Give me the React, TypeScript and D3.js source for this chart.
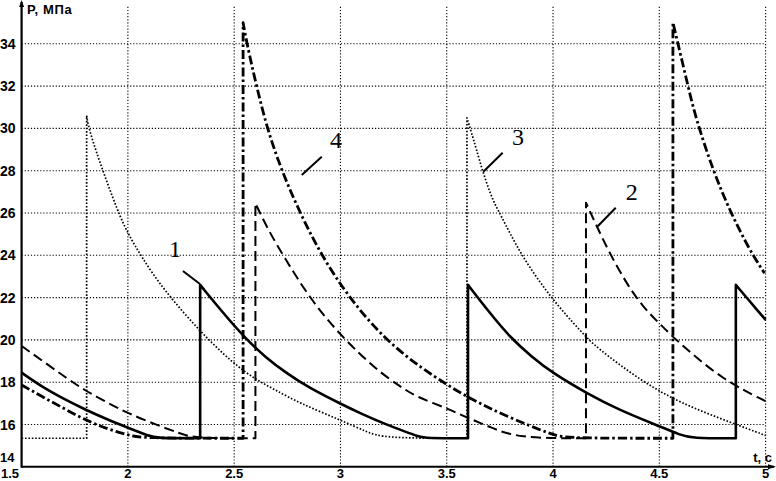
import React from 'react';
import * as d3 from 'd3';

// Pressure traces: [t, s ; P, MPa]
// equal t on consecutive points means a vertical jump
const curve1: [number, number][] = [
  [1.5, 18.45], [1.6, 17.75], [1.7, 17.2], [1.8, 16.7], [1.9, 16.25], [2.0, 15.85], [2.1, 15.45], [2.13, 15.35],
  [2.34, 15.35], [2.34, 22.6], [2.45, 21.25], [2.55, 20.1], [2.65, 19.15], [2.75, 18.4], [2.85, 17.75], [3.0, 16.98],
  [3.1, 16.5], [3.22, 15.98], [3.3, 15.68], [3.37, 15.42], [3.4, 15.35],
  [3.6, 15.35], [3.6, 22.6], [3.7, 21.3], [3.8, 20.1], [3.9, 19.2], [4.0, 18.42], [4.16, 17.47], [4.31, 16.69],
  [4.5, 15.92], [4.6, 15.5], [4.65, 15.35],
  [4.86, 15.35], [4.86, 22.6], [4.97, 21.3], [5.0, 20.95],
];

const curve2: [number, number][] = [
  [1.5, 19.71], [1.6, 19.0], [1.71, 18.2], [1.8, 17.6], [1.9, 17.05], [2.0, 16.53], [2.135, 15.98], [2.245, 15.58],
  [2.31, 15.35],
  [2.6, 15.35], [2.6, 26.46], [2.66, 25.2], [2.73, 24.0], [2.856, 21.95], [3.005, 20.15], [3.17, 18.58], [3.28, 17.8],
  [3.357, 17.31], [3.5, 16.77], [3.594, 16.33], [3.7, 15.9], [3.83, 15.35],
  [4.155, 15.35], [4.155, 26.49], [4.203, 25.43], [4.266, 24.1], [4.345, 22.68], [4.422, 21.57], [4.5, 20.78],
  [4.594, 19.84], [4.8, 18.1], [5.0, 17.1],
];

const curve3: [number, number][] = [
  [1.5, 15.35], [1.806, 15.35], [1.806, 30.6], [1.814, 30.08], [1.86, 28.6], [1.955, 26.0], [2.0, 25.04],
  [2.065, 23.9], [2.166, 22.4], [2.339, 20.39], [2.495, 18.89], [2.605, 18.1], [2.7, 17.6], [2.81, 17.0],
  [3.0, 16.21], [3.122, 15.66], [3.2, 15.35],
  [3.595, 15.35], [3.595, 30.5], [3.616, 29.8], [3.64, 29.0], [3.671, 27.89], [3.718, 26.55], [3.75, 26.0],
  [3.843, 24.1], [3.99, 21.97], [4.14, 20.3], [4.2, 19.68], [4.408, 18.1], [4.6, 17.0], [4.846, 16.06],
  [5.0, 15.48],
];

const curve4: [number, number][] = [
  [1.5, 17.87], [1.6, 17.3], [1.7, 16.75], [1.8, 16.21], [1.9, 15.8], [2.0, 15.5], [2.06, 15.35],
  [2.542, 15.35], [2.542, 35.0], [2.56, 34.0], [2.605, 32.0], [2.655, 30.0], [2.723, 28.0], [2.81, 26.0],
  [2.91, 24.0], [3.04, 22.0], [3.21, 20.0], [3.39, 18.6], [3.5, 17.9], [3.595, 17.3], [3.783, 16.37],
  [4.0, 15.5], [4.06, 15.35],
  [4.564, 15.35], [4.564, 35.0], [4.588, 34.0], [4.635, 32.0], [4.671, 30.5], [4.752, 28.03], [4.83, 26.14],
  [4.924, 24.25], [4.995, 23.15],
];

const xTicks = [1.5, 2, 2.5, 3, 3.5, 4, 4.5, 5];
const yTicks = [14, 16, 18, 20, 22, 24, 26, 28, 30, 32, 34];

// curve labels: text position and leader line (data units)
const labelNames = ['1', '2', '3', '4'];
const labelAt: [number, number][] = [[2.222, 23.92], [4.37, 26.61], [3.835, 29.21], [2.979, 29.07]];
const leaders: [number, number, number, number][] = [
  [2.259, 23.26, 2.339, 22.64],
  [4.295, 26.25, 4.208, 25.35],
  [3.763, 28.85, 3.672, 27.95],
  [2.912, 28.66, 2.818, 27.8],
];

const W = 776;
const H = 481;

const x = d3.scaleLinear().domain([1.5, 5]).range([21.6, 765.6]);
const y = d3.scaleLinear().domain([14, 34]).range([466.8, 43.8]);

const lineGen = d3.line<[number, number]>()
  .x(d => x(d[0]))
  .y(d => y(d[1]))
  .curve(d3.curveBasis);

// smooth each decay piece, join pieces with straight vertical jumps
function tracePath(pts: [number, number][]) {
  const pieces: [number, number][][] = [[pts[0]]];
  for (let i = 1; i < pts.length; i++) {
    if (pts[i][0] === pts[i - 1][0]) pieces.push([pts[i]]);
    else pieces[pieces.length - 1].push(pts[i]);
  }
  return pieces
    .map((p, i) => {
      const d = p.length > 1 ? lineGen(p) || '' : `M${x(p[0][0])},${y(p[0][1])}`;
      return i === 0 ? d : 'L' + d.slice(1);
    })
    .join('');
}

const series = [
  { pts: curve1, width: 2.6, dash: 'none' },
  { pts: curve2, width: 2, dash: '10,5' },
  { pts: curve3, width: 1.7, dash: '1.6,1.8' },
  { pts: curve4, width: 2.8, dash: '9,3,2.5,3' },
];

export default function App() {
  const top = y(35.75);
  const sans = '"Liberation Sans", Arial, sans-serif';
  return (
    <svg
      width={W}
      height={H}
      style={{ position: 'absolute', left: 0, top: 0, background: '#fff' }}
    >
      {/* grid */}
      <g stroke="#000" strokeWidth={1.1} strokeDasharray="1.2,1.9">
        {yTicks.slice(1).map(v => (
          <line key={'h' + v} x1={x(1.5)} x2={x(5)} y1={y(v)} y2={y(v)} />
        ))}
        {xTicks.slice(1).map(t => (
          <line key={'v' + t} x1={x(t)} x2={x(t)} y1={top} y2={y(14)} />
        ))}
      </g>

      {/* traces */}
      {series.map((s, i) => (
        <path
          key={i}
          d={tracePath(s.pts)}
          fill="none"
          stroke="#000"
          strokeWidth={s.width}
          strokeDasharray={s.dash}
          strokeLinejoin="round"
        />
      ))}

      {/* axes */}
      <line x1={x(1.5)} x2={x(1.5)} y1={2} y2={y(14) + 1} stroke="#000" strokeWidth={2.2} />
      <path d={`M${x(1.5)},0L${x(1.5) - 2.5},7L${x(1.5) + 2.5},7Z`} fill="#000" />
      <line x1={x(1.5)} x2={W - 2} y1={y(14)} y2={y(14)} stroke="#000" strokeWidth={2} />
      <path d={`M${W},${y(14)}L${W - 8},${y(14) - 2.5}L${W - 8},${y(14) + 2.5}Z`} fill="#000" />

      <g fontFamily={sans} fontWeight="bold" fontSize={14} fill="#000">
        {yTicks.map(v => (
          <text key={'yl' + v} x={0} y={y(v) - (v === 14 ? 9 : 0)} dy="0.36em" fontSize={v === 14 ? 13 : 14}>{v}</text>
        ))}
        {xTicks.map((t, i) => (
          <text key={'xl' + t} x={i === 0 ? 1 : x(t)} y={478} fontSize={13} textAnchor={i === 0 ? 'start' : 'middle'}>
            {String(t)}
          </text>
        ))}
        <text x={27} y={14} fontSize={13} letterSpacing={0.6}>P, МПа</text>
        <text x={772} y={462} fontSize={13} textAnchor="end">t, c</text>
      </g>

      {/* curve numbers */}
      <g fontFamily='"Liberation Serif", "Times New Roman", serif' fontSize={24} fill="#000">
        {labelNames.map((n, i) => (
          <text key={n} x={x(labelAt[i][0])} y={y(labelAt[i][1])} textAnchor="middle">{n}</text>
        ))}
      </g>
      <g stroke="#000" strokeWidth={2}>
        {leaders.map((l, i) => (
          <line key={i} x1={x(l[0])} y1={y(l[1])} x2={x(l[2])} y2={y(l[3])} />
        ))}
      </g>
    </svg>
  );
}
